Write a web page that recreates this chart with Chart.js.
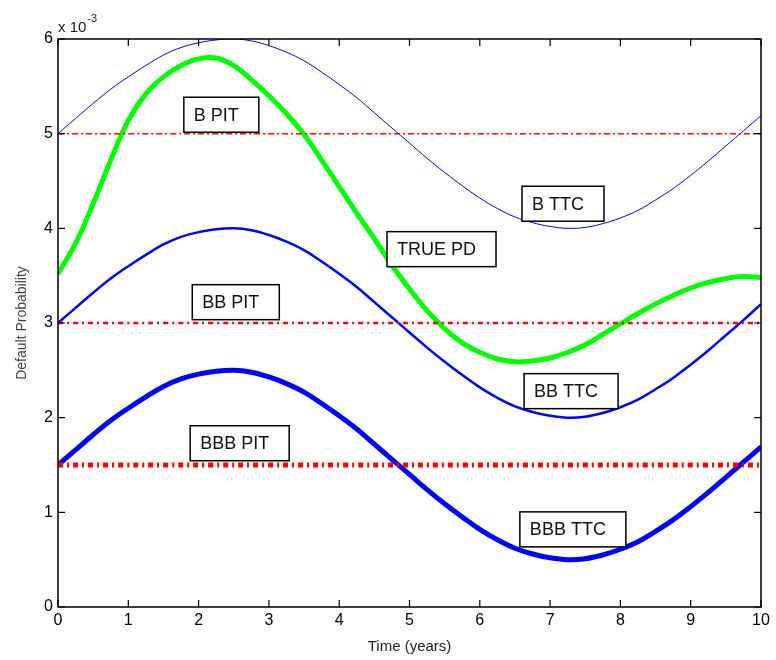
<!DOCTYPE html>
<html lang="en">
<head>
    <meta charset="UTF-8">
    <title>Default Probability: PIT vs TTC</title>
    <script src="https://cdn.jsdelivr.net/npm/chart.js"></script>
    <style>
        body { margin: 0; background: #fff; }
        #wrap { width: 776px; height: 660px; }
    </style>
</head>
<body>
    <div id="wrap"><canvas id="chart" width="776" height="660"></canvas></div>

    <script>
        // years, read every quarter year
        const years = [0, 0.25, 0.5, 0.75, 1, 1.25, 1.5, 1.75, 2, 2.25, 2.5, 2.75, 3, 3.25, 3.5, 3.75, 4, 4.25, 4.5, 4.75,
                       5, 5.25, 5.5, 5.75, 6, 6.25, 6.5, 6.75, 7, 7.25, 7.5, 7.75, 8, 8.25, 8.5, 8.75, 9, 9.25, 9.5, 9.75, 10];

        // values are in units of 1e-3
        const bTTC   = [5.00, 5.16, 5.32, 5.47, 5.60, 5.72, 5.83, 5.91, 5.96, 5.99, 6.00, 5.98, 5.93, 5.86, 5.77, 5.65, 5.52, 5.38, 5.22, 5.06,
                        4.90, 4.74, 4.59, 4.45, 4.32, 4.21, 4.12, 4.06, 4.02, 4.00, 4.01, 4.05, 4.11, 4.19, 4.30, 4.42, 4.56, 4.71, 4.87, 5.03, 5.19];
        const bbTTC  = [3.00, 3.16, 3.32, 3.47, 3.60, 3.72, 3.83, 3.91, 3.96, 3.99, 4.00, 3.98, 3.93, 3.86, 3.77, 3.65, 3.52, 3.38, 3.22, 3.06,
                        2.90, 2.74, 2.59, 2.45, 2.32, 2.21, 2.12, 2.06, 2.02, 2.00, 2.01, 2.05, 2.11, 2.19, 2.30, 2.42, 2.56, 2.71, 2.87, 3.03, 3.20];
        const bbbTTC = [1.50, 1.66, 1.82, 1.97, 2.10, 2.22, 2.33, 2.41, 2.46, 2.49, 2.50, 2.48, 2.43, 2.36, 2.27, 2.15, 2.02, 1.88, 1.72, 1.56,
                        1.40, 1.24, 1.09, 0.95, 0.82, 0.71, 0.62, 0.56, 0.52, 0.50, 0.51, 0.55, 0.61, 0.69, 0.80, 0.92, 1.06, 1.21, 1.37, 1.53, 1.69];
        const truePD = [3.52, 3.84, 4.26, 4.72, 5.14, 5.42, 5.60, 5.72, 5.79, 5.80, 5.72, 5.57, 5.40, 5.21, 4.99, 4.72, 4.44, 4.16, 3.89, 3.61,
                        3.36, 3.13, 2.94, 2.79, 2.69, 2.62, 2.59, 2.60, 2.63, 2.69, 2.77, 2.88, 2.99, 3.10, 3.20, 3.29, 3.37, 3.43, 3.47, 3.49, 3.48];

        const bPIT = 5;
        const bbPIT = 3;
        const bbbPIT = 1.5;

        const xTicks = [0, 1, 2, 3, 4, 5, 6, 7, 8, 9, 10];
        const yTicks = [0, 1, 2, 3, 4, 5, 6];

        // text boxes, anchored at (left edge, vertical centre) in data units
        const boxLabels = ['B PIT', 'TRUE PD', 'BB PIT', 'BBB PIT', 'B TTC', 'BB TTC', 'BBB TTC'];
        const boxX = [1.79, 4.68, 1.91, 1.88, 6.60, 6.63, 6.57];
        const boxY = [5.20, 3.78, 3.22, 1.73, 4.26, 2.28, 0.82];

        const pts = arr => arr.map((v, i) => ({ x: years[i], y: v }));
        const flat = v => [{ x: 0, y: v }, { x: 10, y: v }];

        const FONT = '"Liberation Sans", Arial, sans-serif';

        const framePlugin = {
            id: 'frame',
            afterDatasetsDraw(chart) {
                const { ctx, chartArea: a, scales: { x, y } } = chart;
                ctx.save();
                ctx.strokeStyle = '#000';
                ctx.lineWidth = 1.5;
                ctx.strokeRect(a.left, a.top, a.right - a.left, a.bottom - a.top);
                ctx.lineWidth = 1.2;
                ctx.beginPath();
                xTicks.forEach(t => {
                    const px = x.getPixelForValue(t);
                    ctx.moveTo(px, a.bottom); ctx.lineTo(px, a.bottom - 7);
                    ctx.moveTo(px, a.top); ctx.lineTo(px, a.top + 7);
                });
                yTicks.forEach(t => {
                    const py = y.getPixelForValue(t);
                    ctx.moveTo(a.left, py); ctx.lineTo(a.left + 7, py);
                    ctx.moveTo(a.right, py); ctx.lineTo(a.right - 7, py);
                });
                ctx.stroke();
                ctx.restore();
            },
            afterDraw(chart) {
                const { ctx, chartArea: a, scales: { x, y } } = chart;
                ctx.save();
                ctx.font = '18px ' + FONT;
                ctx.textBaseline = 'middle';
                boxLabels.forEach((txt, i) => {
                    const left = x.getPixelForValue(boxX[i]);
                    const cy = y.getPixelForValue(boxY[i]);
                    const w = ctx.measureText(txt).width + 30;
                    const h = 35;
                    ctx.fillStyle = '#fff';
                    ctx.fillRect(left, cy - h / 2, w, h);
                    ctx.strokeStyle = '#000';
                    ctx.lineWidth = 1.5;
                    ctx.strokeRect(left, cy - h / 2, w, h);
                    ctx.fillStyle = '#111';
                    ctx.fillText(txt, left + 10, cy + 1);
                });
                // exponent label
                ctx.fillStyle = '#222';
                ctx.textBaseline = 'alphabetic';
                ctx.font = '15px ' + FONT;
                ctx.fillText('x 10', a.left, a.top - 7);
                const w10 = ctx.measureText('x 10').width;
                ctx.font = '11px ' + FONT;
                ctx.fillText('-3', a.left + w10 + 1, a.top - 17);
                ctx.restore();
            }
        };

        const ctx = document.getElementById('chart').getContext('2d');
        const chart = new Chart(ctx, {
            type: 'line',
            data: {
                datasets: [
                    { label: 'B PIT', data: flat(bPIT), borderColor: '#ff0000', borderWidth: 1.5, borderDash: [6, 3, 2, 3] },
                    { label: 'BB PIT', data: flat(bbPIT), borderColor: '#ff0000', borderWidth: 2.5, borderDash: [5, 4, 2, 4] },
                    { label: 'BBB PIT', data: flat(bbbPIT), borderColor: '#ff0000', borderWidth: 5, borderDash: [5, 4, 2, 4] },
                    { label: 'B TTC', data: pts(bTTC), borderColor: '#0000ff', borderWidth: 1 },
                    { label: 'BB TTC', data: pts(bbTTC), borderColor: '#0000ff', borderWidth: 2.5 },
                    { label: 'BBB TTC', data: pts(bbbTTC), borderColor: '#0000ff', borderWidth: 5 },
                    { label: 'TRUE PD', data: pts(truePD), borderColor: '#00ff00', borderWidth: 5 }
                ]
            },
            options: {
                responsive: false,
                animation: false,
                events: [],
                elements: {
                    point: { radius: 0 },
                    line: { tension: 0.4, fill: false, borderCapStyle: 'butt', borderJoinStyle: 'round' }
                },
                layout: { padding: { top: 39, right: 15, left: 0, bottom: 0 } },
                plugins: { legend: { display: false }, tooltip: { enabled: false } },
                scales: {
                    x: {
                        type: 'linear', min: 0, max: 10,
                        afterFit: s => { s.height = 53; },
                        afterBuildTicks: s => { s.ticks = xTicks.map(v => ({ value: v })); },
                        ticks: { color: '#000', font: { family: FONT, size: 16 }, padding: 4, maxRotation: 0 },
                        grid: { display: false, drawTicks: false },
                        border: { display: false },
                        title: { display: true, text: 'Time (years)', color: '#222', font: { family: FONT, size: 15 }, padding: { top: 0, bottom: 4 } }
                    },
                    y: {
                        min: 0, max: 6,
                        afterFit: s => { s.width = 58; },
                        afterBuildTicks: s => { s.ticks = yTicks.map(v => ({ value: v })); },
                        ticks: { color: '#000', font: { family: FONT, size: 16 }, padding: 5 },
                        grid: { display: false, drawTicks: false },
                        border: { display: false },
                        title: { display: true, text: 'Default Probability', color: '#444', font: { family: FONT, size: 14 }, padding: { top: 14 } }
                    }
                }
            },
            plugins: [framePlugin]
        });
    </script>
</body>
</html>
